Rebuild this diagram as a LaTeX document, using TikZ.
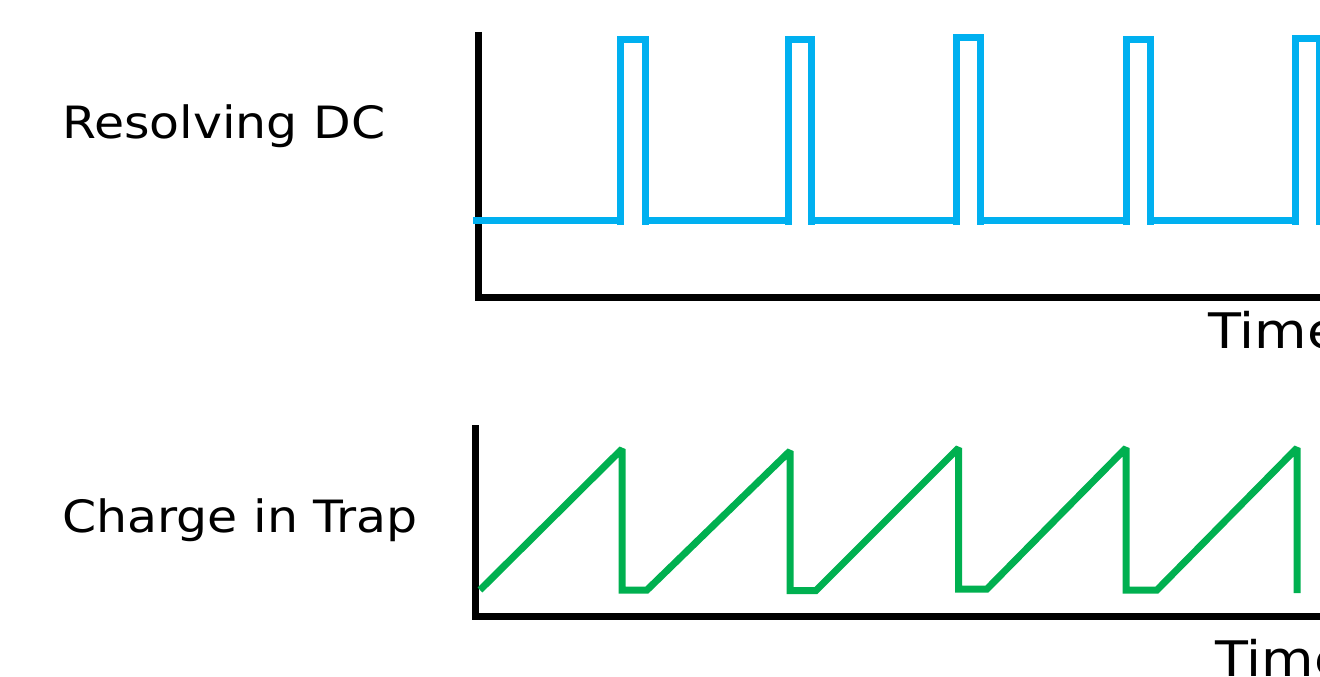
\documentclass[tikz,border=0pt]{standalone}
\usepackage{fontspec}
\setmainfont{DejaVu Sans}
\usepackage{tikz}
\definecolor{dcblue}{HTML}{00B0F0}
\definecolor{trapgreen}{HTML}{00B050}
\tikzstyle{axis} = [line width=7pt, draw=black, line join=miter]
\tikzstyle{pulse} = [line width=7pt, draw=dcblue, line join=miter]
\tikzstyle{ramp} = [line width=7pt, draw=trapgreen, line join=miter, miter limit=2]
\tikzstyle{label} = [anchor=base west, inner sep=0pt, xscale=1.1, font=\fontsize{44.5}{52}\selectfont]
\tikzstyle{timelabel} = [anchor=base west, inner sep=0pt, xscale=1.1, font=\fontsize{49}{58}\selectfont]

\begin{document}
\begin{tikzpicture}[x=1pt, y=-1pt]
\useasboundingbox (0,0) rectangle (1320,677);
\clip (0,0) rectangle (1320,677);

% labels
\node (dc) [label] at (62,138) {Resolving DC};
\node (trap) [label] at (62,532) {Charge in Trap};
\node (timedc) [timelabel] at (1208,348) {Time};
\node (timetrap) [timelabel] at (1215,676) {Time};

% upper axes
\draw [axis] (478.5,32) -- (478.5,297) -- (1330,297);

% resolving DC pulses
\draw [pulse] (473,220) -- (620.5,220);
\draw [pulse] (620.5,225) |- (645,39.5) -- (645,225);
\draw [pulse] (645,220) -- (788.5,220);
\draw [pulse] (788.5,225) |- (811.5,39.5) -- (811.5,225);
\draw [pulse] (811.5,220) -- (956,220);
\draw [pulse] (956,225) |- (980.7,37.5) -- (980.7,225);
\draw [pulse] (980.7,220) -- (1126,220);
\draw [pulse] (1126,225) |- (1150.7,39.5) -- (1150.7,225);
\draw [pulse] (1150.7,220) -- (1295,220);
\draw [pulse] (1295,225) |- (1319.5,38.5) -- (1319.5,225);

% lower axes
\draw [axis] (475,425) -- (475,616) -- (1330,616);

% charge in trap
\draw [ramp] (480,590) -- (622,449) -- (622,590) -- (647,590)
  -- (790,451) -- (790,590.5) -- (816,590.5)
  -- (958.5,448) -- (958.5,589) -- (987,589)
  -- (1126,448) -- (1126,590) -- (1157,590)
  -- (1297,448) -- (1297,593);
\end{tikzpicture}
\end{document}
